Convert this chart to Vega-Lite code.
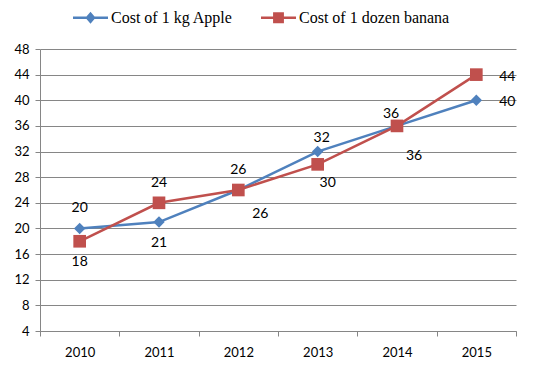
{
  "$schema": "https://vega.github.io/schema/vega-lite/v6.json",
  "autosize": "none",
  "width": 476,
  "height": 282,
  "padding": {"left": 40, "top": 49, "right": 18, "bottom": 36},
  "background": "white",
  "config": {"view": {"stroke": null}},
  "data": {"values": [
    {"year": "2010", "series": "Cost of 1 kg Apple", "cost": 20},
    {"year": "2011", "series": "Cost of 1 kg Apple", "cost": 21},
    {"year": "2012", "series": "Cost of 1 kg Apple", "cost": 26},
    {"year": "2013", "series": "Cost of 1 kg Apple", "cost": 32},
    {"year": "2014", "series": "Cost of 1 kg Apple", "cost": 36},
    {"year": "2015", "series": "Cost of 1 kg Apple", "cost": 40},
    {"year": "2010", "series": "Cost of 1 dozen banana", "cost": 18},
    {"year": "2011", "series": "Cost of 1 dozen banana", "cost": 24},
    {"year": "2012", "series": "Cost of 1 dozen banana", "cost": 26},
    {"year": "2013", "series": "Cost of 1 dozen banana", "cost": 30},
    {"year": "2014", "series": "Cost of 1 dozen banana", "cost": 36},
    {"year": "2015", "series": "Cost of 1 dozen banana", "cost": 44}
  ]},
  "encoding": {
    "x": {
      "field": "year", "type": "ordinal", "bandPosition": 0.5,
      "scale": {"type": "band", "paddingInner": 0, "paddingOuter": 0},
      "axis": {
        "title": null, "labelAngle": 0, "tickBand": "extent",
        "domainColor": "#868686", "tickColor": "#868686", "tickSize": 5,
        "labelFont": "Lato", "labelFontSize": 13, "labelColor": "#000000", "labelPadding": 10,
        "grid": false
      }
    },
    "y": {
      "field": "cost", "type": "quantitative",
      "scale": {"domain": [4, 48], "nice": false, "zero": false},
      "axis": {
        "title": null, "values": [4, 8, 12, 16, 20, 24, 28, 32, 36, 40, 44, 48],
        "domainColor": "#868686", "tickColor": "#868686", "tickSize": 5,
        "gridColor": "#868686", "gridWidth": 1,
        "labelFont": "Lato", "labelFontSize": 13, "labelColor": "#000000", "labelPadding": 6
      }
    },
    "color": {
      "field": "series", "type": "nominal",
      "scale": {"domain": ["Cost of 1 kg Apple", "Cost of 1 dozen banana"], "range": ["#4F81BD", "#C0504D"]},
      "legend": {
        "title": null, "orient": "none", "legendX": 33, "legendY": -49, "direction": "horizontal",
        "labelFont": "Liberation Serif", "labelFontSize": 16, "labelColor": "#000000",
        "symbolSize": 1225, "symbolStrokeWidth": 0, "columnPadding": 28, "labelOffset": 3,
        "encode": {"symbols": {"update": {
          "shape": {"signal": "datum.value == 'Cost of 1 kg Apple' ? 'M-1,-0.07L1,-0.07L1,0.07L-1,0.07Z M0,-0.34L0.29,0L0,0.34L-0.29,0Z' : 'M-1,-0.07L1,-0.07L1,0.07L-1,0.07Z M-0.31,-0.31L0.31,-0.31L0.31,0.31L-0.31,0.31Z'"},
          "fill": {"signal": "datum.value == 'Cost of 1 kg Apple' ? '#4F81BD' : '#C0504D'"},
          "strokeWidth": {"value": 0}
        }}}
      }
    }
  },
  "layer": [
    {"mark": {"type": "line", "strokeWidth": 2.5}},
    {"mark": {"type": "point", "filled": true, "opacity": 1, "shape": "diamond", "size": 130},
     "transform": [{"filter": "datum.series == 'Cost of 1 kg Apple'"}]},
    {"mark": {"type": "square", "opacity": 1, "size": 160},
     "transform": [{"filter": "datum.series == 'Cost of 1 dozen banana'"}]},
    {"mark": {"type": "text", "dy": -20, "font": "Lato", "fontSize": 14, "color": "#000000"},
     "transform": [{"filter": "(datum.series == 'Cost of 1 kg Apple' && datum.year == '2010') || (datum.series == 'Cost of 1 dozen banana' && (datum.year == '2011' || datum.year == '2012'))"}],
     "encoding": {"text": {"field": "cost"}, "color": {"value": "#000000"}}},
    {"mark": {"type": "text", "dy": -14, "dx": 4, "font": "Lato", "fontSize": 14, "color": "#000000"},
     "transform": [{"filter": "datum.series == 'Cost of 1 kg Apple' && datum.year == '2013'"}],
     "encoding": {"text": {"field": "cost"}, "color": {"value": "#000000"}}},
    {"mark": {"type": "text", "dy": -12, "dx": -6, "font": "Lato", "fontSize": 14, "color": "#000000"},
     "transform": [{"filter": "datum.series == 'Cost of 1 kg Apple' && datum.year == '2014'"}],
     "encoding": {"text": {"field": "cost"}, "color": {"value": "#000000"}}},
    {"mark": {"type": "text", "dy": 21, "font": "Lato", "fontSize": 14, "color": "#000000"},
     "transform": [{"filter": "(datum.series == 'Cost of 1 kg Apple' && datum.year == '2011') || (datum.series == 'Cost of 1 dozen banana' && datum.year == '2010')"}],
     "encoding": {"text": {"field": "cost"}, "color": {"value": "#000000"}}},
    {"mark": {"type": "text", "dy": 24, "dx": 22, "font": "Lato", "fontSize": 14, "color": "#000000"},
     "transform": [{"filter": "datum.series == 'Cost of 1 kg Apple' && datum.year == '2012'"}],
     "encoding": {"text": {"field": "cost"}, "color": {"value": "#000000"}}},
    {"mark": {"type": "text", "dy": 19, "dx": 10, "font": "Lato", "fontSize": 14, "color": "#000000"},
     "transform": [{"filter": "datum.series == 'Cost of 1 dozen banana' && datum.year == '2013'"}],
     "encoding": {"text": {"field": "cost"}, "color": {"value": "#000000"}}},
    {"mark": {"type": "text", "dy": 30, "dx": 17, "font": "Lato", "fontSize": 14, "color": "#000000"},
     "transform": [{"filter": "datum.series == 'Cost of 1 dozen banana' && datum.year == '2014'"}],
     "encoding": {"text": {"field": "cost"}, "color": {"value": "#000000"}}},
    {"mark": {"type": "text", "dx": 31, "dy": 2, "font": "Lato", "fontSize": 14, "color": "#000000"},
     "transform": [{"filter": "datum.year == '2015'"}],
     "encoding": {"text": {"field": "cost"}, "color": {"value": "#000000"}}}
  ]
}
